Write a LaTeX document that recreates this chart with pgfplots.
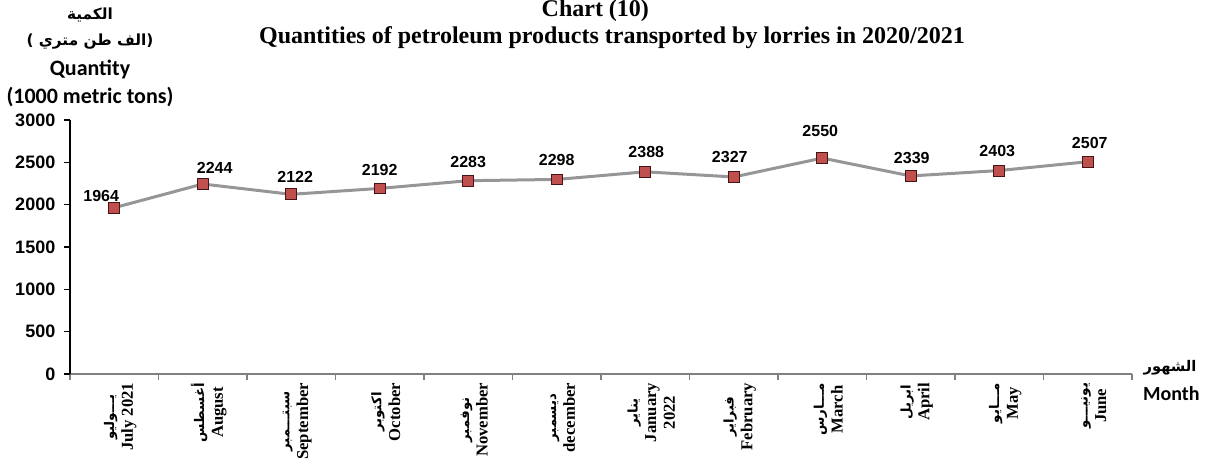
\documentclass[border=0pt]{standalone}
\usepackage{fontspec}
\usepackage{pgfplots}
\usepackage{pgfplotstable}
\pgfplotsset{compat=1.18}
\TeXXeTstate=1
\setmainfont{Liberation Serif}
\newfontfamily\arial{Liberation Sans}
\newfontfamily\calibri{Carlito}
\newfontfamily\arabicfont[Script=Arabic]{DejaVu Sans}
\definecolor{linegray}{RGB}{150,150,150}
\definecolor{markred}{RGB}{192,80,77}
\definecolor{markedge}{RGB}{70,20,20}
\pgfplotstableread{
x y
0 1964
1 2244
2 2122
3 2192
4 2283
5 2298
6 2388
7 2327
8 2550
9 2339
10 2403
11 2507
}\datatable
\def\dxarr{{-13,12,4,0,0,0,1,-4,-2,1,-2,2}}
\def\dyarr{{12,16,17,18,19,19,20,20,27,18,20,19}}
\newcommand{\ar}[1]{{\arabicfont\bfseries\fontsize{10}{15}\selectfont\beginR #1\endR}}
\begin{document}
\begin{tikzpicture}
\path[use as bounding box] (-52.5pt,-69pt) rectangle (855pt,280.5pt);
\begin{axis}[
  scale only axis,
  width=796.5pt, height=190.5pt,
  at={(0,0)}, anchor=south west,
  xmin=-0.5, xmax=11.5, ymin=0, ymax=3000,
  axis x line*=bottom, axis y line*=left,
  x axis line style={draw=gray, line width=0.8pt, -},
  y axis line style={draw=black, line width=0.8pt, -},
  ytick={0,500,...,3000},
  scaled y ticks=false,
  xtick={0,...,11},
  minor xtick={-0.5,0.5,...,11.5},
  tick align=outside,
  major tick length=4.5pt, minor tick length=4.5pt,
  major x tick style={draw=none},
  minor x tick style={draw=gray, line width=0.8pt},
  major y tick style={draw=black, line width=0.8pt},
  xticklabels={
    {\ar{يـــوليو}\\July 2021},
    {\ar{أغسطس}\\August},
    {\ar{سبتـــمبر}\\September},
    {\ar{اكتوبر}\\October},
    {\ar{نوفمبر}\\November},
    {\ar{ديسمبر}\\december},
    {\ar{يناير}\\January\\2022},
    {\ar{فبراير}\\February},
    {\ar{مـــارس}\\March},
    {\ar{ابريل}\\April},
    {\ar{مـــايو}\\May},
    {\ar{يونيـــو}\\June}
  },
  xticklabel style={rotate=90, anchor=east, align=center,
    font=\bfseries\fontsize{12.5}{14}\selectfont, inner sep=2pt, yshift=-4.5pt},
  yticklabel style={font=\arial\bfseries\fontsize{13.5}{15}\selectfont, xshift=-3pt},
  /pgf/number format/.cd, 1000 sep={}, assume math mode=true, /pgfplots/.cd,
  clip=false,
]
\addplot[color=linegray, line width=2.25pt,
  mark=square*, mark size=4.1pt,
  mark options={fill=markred, draw=markedge, line width=0.6pt},
  nodes near coords,
  visualization depends on={value \coordindex \as \idx},
  every node near coord/.append style={anchor=center, text=black,
    font=\arial\bfseries\fontsize{12}{14}\selectfont,
    xshift={0.75pt*\dxarr[\idx]}, yshift={0.75pt*\dyarr[\idx]}},
] table[x=x, y=y] {\datatable};
\end{axis}
\node[font=\bfseries\fontsize{18}{20}\selectfont] at (394pt,272.5pt) {Chart (10)};
\node[font=\bfseries\fontsize{18}{20}\selectfont] at (406.5pt,252pt) {Quantities of petroleum products transported by lorries in 2020/2021};
\node[font=\arabicfont\bfseries\fontsize{11.5}{12}\selectfont] at (15pt,269.25pt) {\beginR الكمية\endR};
\node[font=\arabicfont\bfseries\fontsize{11.5}{12}\selectfont] at (15pt,249pt) {\beginR (الف طن متري )\endR};
\node[font=\calibri\bfseries\fontsize{16.5}{18}\selectfont] at (15pt,228pt) {Quantity};
\node[font=\calibri\bfseries\fontsize{16.5}{18}\selectfont] at (15pt,207.75pt) {(1000 metric tons)};
\node[font=\arabicfont\bfseries\fontsize{11}{12}\selectfont] at (825pt,4.5pt) {\beginR الشهور\endR};
\node[font=\calibri\bfseries\fontsize{15}{16}\selectfont] at (826pt,-15pt) {Month};
\end{tikzpicture}
\end{document}
